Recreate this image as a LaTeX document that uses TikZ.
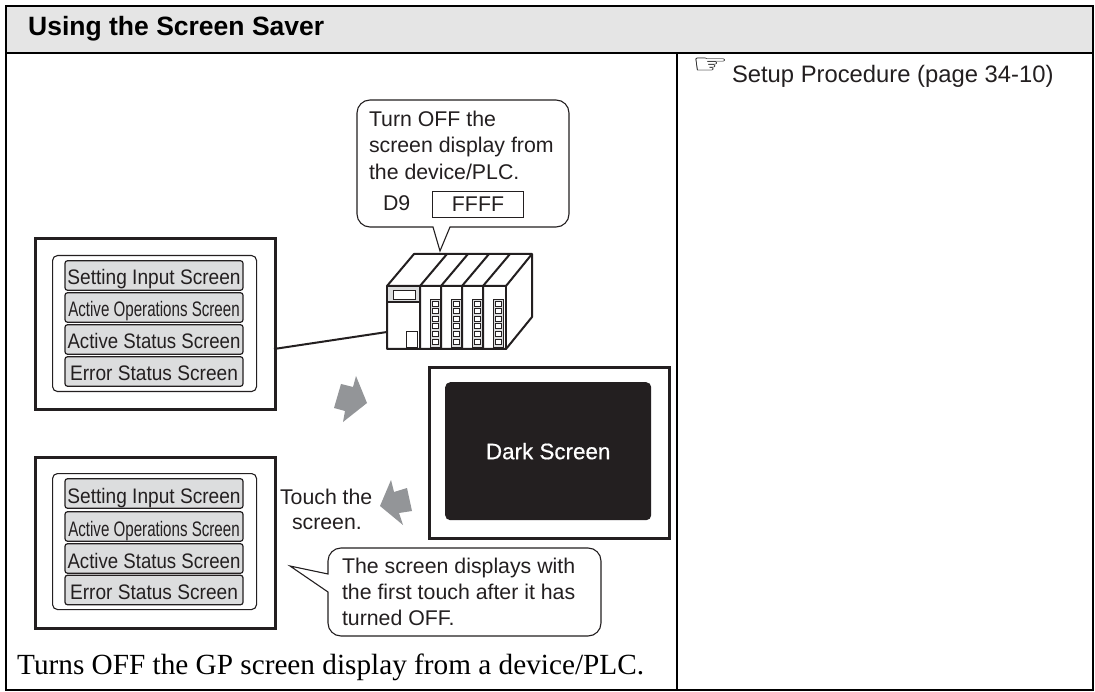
\documentclass[tikz,border=0pt]{standalone}
\usepackage{fontspec}
\setmainfont{Liberation Sans}
\newfontfamily\timesfont{Liberation Serif}
\newfontfamily\symfont{DejaVu Sans}
\newfontfamily\heavyfont[FakeBold=0.5]{Liberation Sans}
\definecolor{ink}{HTML}{231F20}
\definecolor{headfill}{HTML}{E5E5E5}
\definecolor{barfill}{HTML}{DCDDDE}
\definecolor{arrowgray}{HTML}{939598}
\newcommand{\bodysize}{\fontsize{21.3}{26.5}\selectfont}
\newcommand{\barlabel}[2]{\scalebox{#1}[1]{\fontsize{21}{24}\selectfont #2}}
\tikzset{
  x=1pt,y=-1pt,
  rule/.style={draw=black,line width=2.2pt},
  txt/.style={anchor=base west,inner sep=0pt,outer sep=0pt,text=ink,font=\bodysize},
  frame/.style={draw=ink,line width=2.6pt,fill=white,anchor=north west,inner sep=0pt,minimum width=240pt,minimum height=171pt},
  panel/.style={draw=ink,line width=1.1pt,rounded corners=5pt,fill=white,anchor=north west,inner sep=0pt,minimum width=204pt,minimum height=136pt},
  barbox/.style={draw=ink,line width=1.2pt,rounded corners=2.5pt,fill=barfill,inner sep=0pt,minimum width=178pt,minimum height=29.5pt,anchor=center,text=ink,text height=19pt,text depth=0pt},
  balloon/.style={draw=ink,line width=1.1pt,fill=white},
  bigarrow/.style={fill=arrowgray,draw=none},
  plcline/.style={draw=ink,line width=2pt,line join=round},
  thinplc/.style={draw=ink,line width=0.9pt},
}
\begin{document}
\begin{tikzpicture}
\useasboundingbox (0,0) rectangle (1095,692);
\fill[white] (0,0) rectangle (1095,692);
% table
\fill[headfill] (6,6) rectangle (1093,53);
\draw[rule] (6,6) rectangle (1093,690);
\draw[rule] (6,53) -- (1093,53);
\draw[rule] (677,53) -- (677,690);
\node[anchor=base west,inner sep=0pt,text=black,font=\fontsize{26.5}{30}\selectfont\bfseries] (title) at (28,36) {Using the Screen Saver};
\node[anchor=base west,inner sep=0pt,text=black,font=\fontsize{27}{30}\selectfont\symfont] (hand) at (692,74) {\scalebox{1.5}[1]{☞}};
\node[txt,font=\fontsize{23.8}{26.5}\selectfont] (setup) at (732,83) {Setup Procedure (page 34-10)};
% top callout
\draw[balloon,rounded corners=13pt] (460,100) -- (569,100) -- (569,227) -- (500,227) [sharp corners] -- (450,227) -- (440,251) -- (433,227) -- (420,227) [rounded corners=13pt] -- (357,227) -- (357,100) -- cycle;
\node[txt] (c1a) at (369,127) {Turn OFF the};
\node[txt] (c1b) at (369,153) {screen display from};
\node[txt] (c1c) at (369,180) {the device/PLC.};
\node[txt] (d9) at (383,211) {D9};
\node[draw=ink,line width=1pt,inner sep=0pt,minimum width=91pt,minimum height=26pt,anchor=north west,text=ink,font=\bodysize] (ffff) at (432,191) {FFFF};
% PLC
\draw[plcline,fill=white] (387,286) -- (414,254) -- (532,254) -- (532,317) -- (506,349) -- (387,349) -- cycle;
\draw[plcline] (387,286) -- (506,286) -- (532,254);
\draw[plcline] (506,286) -- (506,349);
\foreach \xa/\xb in {420/447,441/468,462/489,483/510}{
  \draw[plcline] (\xa,349) -- (\xa,286) -- (\xb,254);
}
\fill[barfill] (388,287) rectangle (419,302);
\draw[thinplc,fill=white] (393,290) rectangle (415,299);
\draw[plcline,line width=1.2pt] (387,302) -- (420,302);
\draw[thinplc,fill=white] (406,331) rectangle (417,347);
\foreach \xs in {430,451,472,493}{
  \draw[draw=ink,line width=0.5pt,fill=barfill] (\xs,299) rectangle (\xs+10,347);
  \foreach \k in {0,...,5}{
    \draw[thinplc,fill=white] (\xs+2,301+\k*7.6) rectangle (\xs+8,306+\k*7.6);
  }
}
\coordinate (plcport) at (387,332);
% upper-left GP
\node[frame] (gp1) at (34,237) {};
\node[panel] (panel1) at (52,255) {};
\node[barbox] (b1a) at (154,275.5) {\barlabel{.91}{Setting Input Screen}};
\node[barbox] (b1b) at (154,307.5) {\barlabel{.72}{Active Operations Screen}};
\node[barbox] (b1c) at (154,339.5) {\barlabel{.887}{Active Status Screen}};
\node[barbox] (b1d) at (154,371.5) {\barlabel{.91}{Error Status Screen}};
\coordinate (gp1port) at (274,349);
\draw[plcline] (gp1port) -- (plcport);
% arrows
\fill[bigarrow] (356,376) -- (367,403) -- (343,422) -- (345,411) -- (334,408) -- (341,384) -- (353,387) -- cycle;
\fill[bigarrow] (391,480) -- (394,492) -- (407,488) -- (412,511) -- (399,513) -- (403,525) -- (380,506) -- cycle;
% dark screen
\node[frame] (gp2) at (428,366) {};
\node[fill=ink,rounded corners=5pt,inner sep=0pt,minimum width=206pt,minimum height=138pt,anchor=north west,text=white] (dark) at (445,382) {\fontsize{22.4}{24}\selectfont\heavyfont Dark Screen};
% lower-left GP
\node[frame] (gp3) at (34,456) {};
\node[panel] (panel3) at (52,473) {};
\node[barbox] (b3a) at (154,493.5) {\barlabel{.91}{Setting Input Screen}};
\node[barbox] (b3b) at (154,526.5) {\barlabel{.72}{Active Operations Screen}};
\node[barbox] (b3c) at (154,558.5) {\barlabel{.887}{Active Status Screen}};
\node[barbox] (b3d) at (154,590) {\barlabel{.91}{Error Status Screen}};
% touch
\node[txt] (touch1) at (280,504) {Touch the};
\node[txt] (touch2) at (292,529) {screen.};
% lower callout
\draw[balloon,rounded corners=13pt] (460,548) -- (601,548) -- (601,636) -- (328,636) -- (328,610) [sharp corners] -- (328,592) -- (290,566) -- (328,574) -- (328,570) [rounded corners=13pt] -- (328,548) -- cycle;
\node[txt] (c2a) at (342,573) {The screen displays with};
\node[txt] (c2b) at (342,599) {the first touch after it has};
\node[txt] (c2c) at (342,625) {turned OFF.};
% caption
\node[anchor=base west,inner sep=0pt,text=black,font=\fontsize{29.25}{32}\selectfont\timesfont] (caption) at (17,674) {Turns OFF the GP screen display from a device/PLC.};
\end{tikzpicture}
\end{document}
